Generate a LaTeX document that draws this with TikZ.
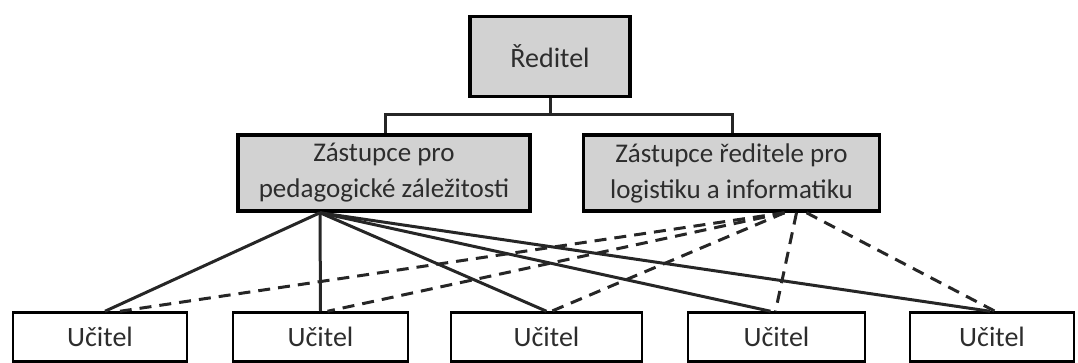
\documentclass[tikz,border=0pt]{standalone}
\usepackage{fontspec}
\setmainfont{Carlito}
\usetikzlibrary{positioning}
\definecolor{boxgray}{RGB}{210,210,210}
\definecolor{inkgray}{RGB}{45,45,45}
\tikzset
{
    chief/.style   = {rectangle, draw=black, fill=boxgray, line width=3.5pt, minimum width=160pt, minimum height=80pt, align=center, text=inkgray, font=\fontsize{28}{36}\selectfont},
    deputy/.style  = {rectangle, draw=black, fill=boxgray, line width=3.5pt, minimum width=292pt, minimum height=76pt, align=center, text=inkgray, font=\fontsize{27}{36}\selectfont},
    teacher/.style = {rectangle, draw=black, fill=white, line width=2.5pt, minimum width=#1, minimum height=49pt, align=center, text=inkgray, font=\fontsize{28}{34}\selectfont},
    link/.style    = {line width=3pt, draw=black!85},
    dlink/.style   = {line width=3pt, draw=black!85, dash pattern=on 12pt off 8pt},
}

\begin{document}
\begin{tikzpicture}[x=1pt, y=-1pt]
	\useasboundingbox (0,0) rectangle (1078,363);

	\node (red) [chief] at (550,56.5) {Ředitel};
	\node (dp1) [deputy] at (384,173) {Zástupce pro\\pedagogické záležitosti};
	\node (dp2) [deputy, minimum width=296pt] at (731.5,173) {Zástupce ředitele pro\\logistiku a informatiku};

	\node (u1) [teacher=174pt] at (100,337) {Učitel};
	\node (u2) [teacher=175pt] at (320.5,337) {Učitel};
	\node (u3) [teacher=191pt] at (546.5,337) {Učitel};
	\node (u4) [teacher=177pt] at (776.5,337) {Učitel};
	\node (u5) [teacher=164pt] at (992,337) {Učitel};

	\coordinate (bus) at (550,115);
	\coordinate (fanL) at ([xshift=-64pt]dp1.south);
	\coordinate (fanR) at ([xshift=53pt]dp2.south);
	\coordinate (fanR4) at ([xshift=65pt]dp2.south);
	\coordinate (fanR5) at ([xshift=75pt]dp2.south);

	\draw [link] (red.south) -- (bus);
	\draw [link] ([xshift=1pt]dp1.north) |- (bus) -| ([xshift=0.5pt]dp2.north);

	\draw [link] (fanL) -- ([xshift=5pt]u1.north);
	\draw [link] (fanL) -- (u2.north);
	\draw [link] (fanL) -- (u3.north);
	\draw [link] (fanL) -- ([xshift=-6pt]u4.north);
	\draw [link] (fanL) -- ([xshift=-2pt]u5.north);

	\draw [dlink] (fanR) -- ([xshift=20pt]u1.north);
	\draw [dlink] (fanR) -- ([xshift=7pt]u2.north);
	\draw [dlink] (fanR) -- ([xshift=5pt]u3.north);
	\draw [dlink] (fanR4) -- ([xshift=-1pt]u4.north);
	\draw [dlink] (fanR5) -- ([xshift=3pt]u5.north);
\end{tikzpicture}
\end{document}
